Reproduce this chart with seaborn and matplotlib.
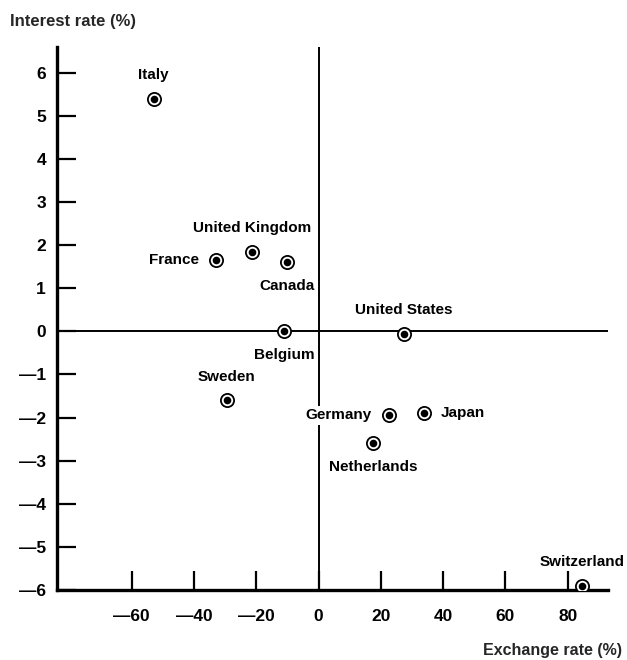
import matplotlib
matplotlib.use("Agg")
import matplotlib.pyplot as plt
import seaborn as sns
import pandas as pd

countries = ["Italy", "France", "United Kingdom", "Canada", "Belgium",
             "United States", "Germany", "Japan", "Netherlands", "Sweden",
             "Switzerland"]
exchange_rate = [-53.0, -33.0, -21.5, -10.0, -11.0, 27.5, 22.5, 34.0, 17.5, -29.5, 84.5]
interest_rate = [5.4, 1.65, 1.85, 1.6, 0.0, -0.05, -1.95, -1.9, -2.6, -1.6, -5.9]

x_ticks = [-60, -40, -20, 0, 20, 40, 60, 80]
x_tick_labels = ["\u201460", "\u201440", "\u201420", "0", "20", "40", "60", "80"]
y_ticks = [6, 5, 4, 3, 2, 1, 0, -1, -2, -3, -4, -5, -6]
y_tick_labels = ["6", "5", "4", "3", "2", "1", "0", "\u20141", "\u20142", "\u20143",
                 "\u20144", "\u20145", "\u20146"]

df = pd.DataFrame({"country": countries, "fx": exchange_rate, "ir": interest_rate})

sns.set_theme(style="white")
plt.rcParams["font.family"] = ["Liberation Sans Narrow", "Liberation Sans", "DejaVu Sans"]
plt.rcParams["font.weight"] = "bold"

fig = plt.figure(figsize=(6.27, 6.6), dpi=100)
ax = fig.add_axes([0.091, 0.106, 0.879, 0.823])

ax.axhline(0, color="black", lw=1.4, zorder=1)
ax.axvline(0, color="black", lw=1.4, zorder=1)

# ringed markers: white disc with black rim, then a solid black centre
sns.scatterplot(data=df, x="fx", y="ir", ax=ax, s=90, color="white",
                edgecolor="black", linewidth=1.3, zorder=3, legend=False)
sns.scatterplot(data=df, x="fx", y="ir", ax=ax, s=30, color="black",
                edgecolor="black", linewidth=0, zorder=4, legend=False)

# label placement per country: (dx points, dy points, ha, va)
offsets = {
    "Italy": (0, 12, "center", "bottom"),
    "France": (-12, 0, "right", "center"),
    "United Kingdom": (0, 12, "center", "bottom"),
    "Canada": (0, -12, "center", "top"),
    "Belgium": (0, -12, "center", "top"),
    "United States": (0, 12, "center", "bottom"),
    "Germany": (-12, 0, "right", "center"),
    "Japan": (12, 0, "left", "center"),
    "Netherlands": (0, -12, "center", "top"),
    "Sweden": (0, 12, "center", "bottom"),
    "Switzerland": (0, 12, "center", "bottom"),
}
for name, xv, yv in zip(countries, exchange_rate, interest_rate):
    dx, dy, ha, va = offsets[name]
    kw = {}
    if name == "Germany":
        kw["bbox"] = dict(facecolor="white", edgecolor="none", pad=2)
    ax.annotate(name, (xv, yv), xytext=(dx, dy), textcoords="offset points",
                ha=ha, va=va, fontsize=11, fontweight="bold", color="black",
                zorder=5, **kw)

ax.set_xlim(-84, 93)
ax.set_ylim(-6, 6.6)
ax.set_xticks(x_ticks)
ax.set_xticklabels(x_tick_labels)
ax.set_yticks(y_ticks)
ax.set_yticklabels(y_tick_labels)
ax.tick_params(axis="both", which="major", bottom=True, left=True,
               direction="in", length=14, width=1.6, color="black",
               labelsize=12.5, labelcolor="black")
ax.tick_params(axis="y", pad=8)
ax.tick_params(axis="x", pad=14)
for lab in ax.get_xticklabels() + ax.get_yticklabels():
    lab.set_fontweight("bold")

for side in ["top", "right"]:
    ax.spines[side].set_visible(False)
for side in ["left", "bottom"]:
    ax.spines[side].set_color("black")
    ax.spines[side].set_linewidth(2.4)

ax.set_xlabel("")
ax.set_ylabel("")
fig.text(0.016, 0.968, "Interest rate (%)", fontsize=12, fontweight="bold",
         ha="left", va="center")
fig.text(0.992, 0.015, "Exchange rate (%)", fontsize=11.5, fontweight="bold",
         ha="right", va="center")

fig.savefig("out.png", dpi=100, facecolor="white")
